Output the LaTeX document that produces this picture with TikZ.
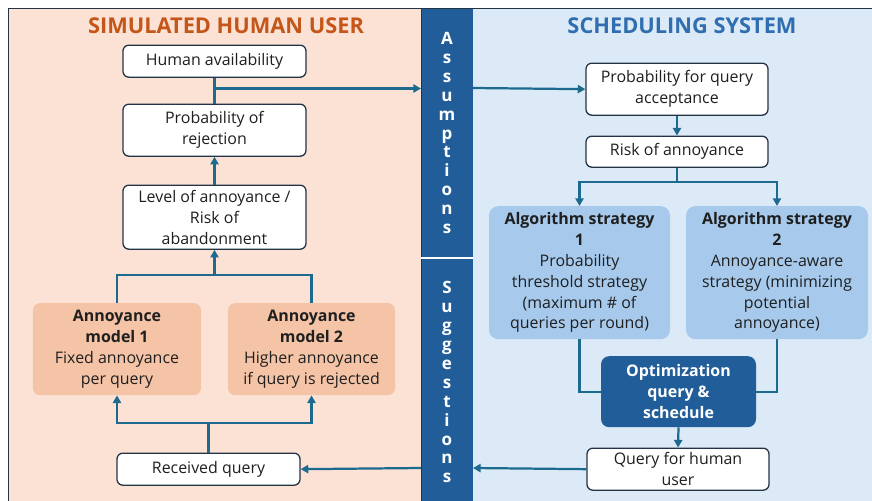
\documentclass[tikz,border=0pt]{standalone}
\usepackage{fontspec}
\setmainfont{Open Sans}
\usetikzlibrary{arrows.meta}
\definecolor{peach}{HTML}{FBE2D5}
\definecolor{salmon}{HTML}{F5C4A7}
\definecolor{band}{HTML}{215E99}
\definecolor{lblue}{HTML}{DCE9F6}
\definecolor{sblue}{HTML}{A6C9EC}
\definecolor{conc}{HTML}{1D6A8F}
\definecolor{torange}{HTML}{C4561A}
\definecolor{tblue}{HTML}{2F6EB0}
\definecolor{boxc}{HTML}{243447}
\begin{document}
\begin{tikzpicture}[x=0.03cm,y=-0.03cm,
  txt/.style={font=\fontsize{13.6}{17.8}\selectfont, align=center, text=black!88, inner sep=0pt, yshift=-1pt},
  wbox/.style={txt, draw=boxc, line width=1.1pt, fill=white, rounded corners=5pt},
  mbox/.style={txt, fill=salmon, rounded corners=6pt},
  sbox/.style={txt, fill=sblue, rounded corners=8pt},
  obox/.style={txt, fill=band, text=white, rounded corners=7pt, font=\fontsize{13.6}{17.8}\selectfont\bfseries},
  conn/.style={draw=conc, line width=1.9pt},
  arr/.style={conn, -{Triangle[length=6.5pt,width=7pt]}},
  title/.style={font=\fontsize{18.6}{20}\selectfont\bfseries, inner sep=0pt},
  vtext/.style={font=\fontsize{14.5}{16.2}\selectfont\bfseries, text=white, align=center, inner sep=0pt}
]
\useasboundingbox (0,0) rectangle (872,500);
% panels
\fill[white] (0,0) rectangle (872,500);
\fill[peach] (8,8) rectangle (421,510);
\fill[band] (421,8) rectangle (473,510);
\fill[lblue] (473,8) rectangle (880,510);
\draw[boxc, line width=0.8pt] (8,510) -- (8,8) -- (880,8);
\draw[boxc, line width=0.5pt] (421,8) -- (421,510);
\draw[white, line width=1pt] (421,258) -- (473,258);
% titles
\node[title, text=torange] (t1) at (226,26) {SIMULATED HUMAN USER};
\node[title, text=tblue] (t2) at (682,26) {SCHEDULING SYSTEM};
% band texts
\node[vtext] (as) at (447,133) {A\\s\\s\\u\\m\\p\\t\\i\\o\\n\\s};
\node[vtext] (su) at (447,382) {S\\u\\g\\g\\e\\s\\t\\i\\o\\n\\s};
% left nodes
\node[wbox, minimum width=5.49cm, minimum height=0.96cm] (ha) at (214.5,60) {Human availability};
\node[wbox, minimum width=5.49cm, minimum height=1.56cm] (pr) at (214.5,129) {Probability of\\rejection};
\node[wbox, minimum width=5.49cm, minimum height=1.92cm] (lv) at (214.5,216) {Level of annoyance /\\Risk of\\abandonment};
\node[mbox, minimum width=5.04cm, minimum height=2.76cm] (m1) at (117,348) {\textbf{Annoyance}\\\textbf{model 1}\\Fixed annoyance\\per query};
\node[mbox, minimum width=5.01cm, minimum height=2.76cm] (m2) at (311.5,348) {\textbf{Annoyance}\\\textbf{model 2}\\Higher annoyance\\if query is rejected};
\node[wbox, minimum width=5.49cm, minimum height=0.96cm] (rq) at (208.5,468) {Received query};
% right nodes
\node[wbox, minimum width=5.46cm, minimum height=1.56cm] (pa) at (677,88) {Probability for query\\acceptance};
\node[wbox, minimum width=5.46cm, minimum height=0.93cm] (ra) at (677,150.5) {Risk of annoyance};
\node[sbox, minimum width=5.43cm, minimum height=3.99cm] (s1) at (579.5,271.5) {\textbf{Algorithm strategy}\\\textbf{1}\\Probability\\threshold strategy\\(maximum \# of\\queries per round)};
\node[sbox, minimum width=5.46cm, minimum height=3.99cm] (s2) at (777,271.5) {\textbf{Algorithm strategy}\\\textbf{2}\\Annoyance-aware\\strategy (minimizing\\potential\\annoyance)};
\node[obox, minimum width=4.65cm, minimum height=2.13cm] (op) at (678.5,390.5) {Optimization\\query \&\\schedule};
\node[wbox, minimum width=5.46cm, minimum height=1.26cm] (qh) at (678,468) {Query for human\\user};
% coordinates
\coordinate (bL1) at (421,88.5);
\coordinate (bR1) at (473,88);
\coordinate (bL2) at (421,468);
\coordinate (bR2) at (473,468);
\coordinate (mj) at (214.5,275);
\coordinate (rj) at (208.5,423);
\coordinate (aj) at (677,182);
% left connectors
\draw[conn] (ha.south) -- (pr.north);
\draw[arr] (ha.south |- bL1) -- (bL1);
\draw[arr] (lv.north) -- (pr.south);
\draw[conn] (m1.north) |- (mj) -| (m2.north);
\draw[arr] (mj) -- (lv.south);
\draw[conn] (rq.north) -- (rj);
\draw[arr] (rj) -| (m1.south);
\draw[arr] (rj) -| (m2.south);
\draw[arr] (bL2) -- (rq.east);
% right connectors
\draw[arr] (bR1) -- (pa.west);
\draw[arr] (pa.south) -- (ra.north);
\draw[conn] (ra.south) -- (aj);
\draw[arr] (aj) -| (s1.north);
\draw[arr] (aj) -| (s2.north);
\draw[conn] (s1.south) |- (op.west);
\draw[conn] (s2.south) |- (op.east);
\draw[arr] (op.south) -- (qh.north);
\draw[arr] (qh.west) -- (bR2);
\end{tikzpicture}
\end{document}
